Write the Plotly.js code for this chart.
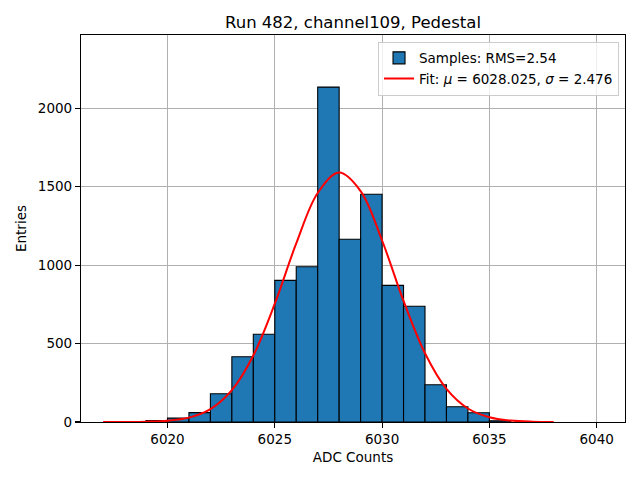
<!DOCTYPE html>
<html>
<head>
<meta charset="utf-8">
<script src="https://cdn.plot.ly/plotly-3.0.1.min.js"></script>
<style>html,body{margin:0;padding:0;background:#fff;}#chart{width:640px;height:480px;}</style>
</head>
<body>
<div id="chart"></div>
<script>
// Histogram bins (left edges) and entries
const binLeft = [6019, 6020, 6021, 6022, 6023, 6024, 6025, 6026, 6027, 6028, 6029, 6030, 6031, 6032, 6033, 6034, 6035];
const binCounts = [10, 25, 60, 180, 416, 559, 903, 990, 2135, 1165, 1452, 871, 738, 237, 97, 59, 8];
const binWidth = 1;

// Fit curve values
const fitX = [6017, 6018, 6019, 6020, 6021, 6022, 6023, 6024, 6025, 6026, 6027, 6028, 6029, 6030, 6031, 6032, 6033, 6034, 6035, 6036, 6037, 6038];
const fitY = [0.1, 0.4, 2, 8, 28, 82, 203, 424, 754, 1138, 1460, 1590, 1472, 1157, 772, 438, 211, 86, 30, 9, 2, 0.5];

const titleText = "Run 482, channel109, Pedestal";
const xLabel = "ADC Counts";
const yLabel = "Entries";
const histName = "Samples: RMS=2.54";
const fitName = "Fit: <i>μ</i> = 6028.025, <i>σ</i> = 2.476";
const xTicks = [6020, 6025, 6030, 6035, 6040];
const yTicks = [0, 500, 1000, 1500, 2000];

const font = "DejaVu Sans, sans-serif";

const traces = [
  {
    type: "bar",
    x: binLeft.map(v => v + binWidth / 2),
    y: binCounts,
    width: binLeft.map(() => binWidth),
    name: histName,
    marker: {color: "#1f77b4", line: {color: "#000000", width: 1.1}},
    hoverinfo: "x+y"
  },
  {
    type: "scatter",
    mode: "lines",
    x: fitX,
    y: fitY,
    name: fitName,
    line: {color: "#ff0000", width: 2, shape: "spline"}
  }
];

const axisCommon = {
  showline: true, linecolor: "#000", linewidth: 1.1, mirror: true,
  ticks: "outside", ticklen: 5, tickwidth: 1.1, tickcolor: "#000",
  showgrid: true, gridcolor: "#b0b0b0", gridwidth: 1.1,
  zeroline: false,
  tickfont: {family: font, size: 13.5, color: "#000"}
};

const layout = {
  width: 640, height: 480,
  margin: {l: 80.7, r: 15, t: 35.3, b: 58.3, pad: 0},
  paper_bgcolor: "#fff", plot_bgcolor: "#fff",
  font: {family: font, color: "#000"},
  bargap: 0,
  title: {text: titleText, font: {family: font, size: 16.5, color: "#000"}, x: 0.5, xref: "paper", xanchor: "center", y: 0.953, yref: "container", yanchor: "middle"},
  xaxis: Object.assign({}, axisCommon, {
    range: [6015.97, 6041.32], tickvals: xTicks, ticktext: xTicks.map(String),
    title: {text: xLabel, font: {family: font, size: 13.5, color: "#000"}, standoff: 6}
  }),
  yaxis: Object.assign({}, axisCommon, {
    range: [0, 2467], tickvals: yTicks, ticktext: yTicks.map(String),
    title: {text: yLabel, font: {family: font, size: 13.5, color: "#000"}, standoff: 8}
  }),
  showlegend: true,
  legend: {
    x: 0.989, y: 0.983, xanchor: "right", yanchor: "top",
    bgcolor: "rgba(255,255,255,0.8)", bordercolor: "#cccccc", borderwidth: 1,
    font: {family: font, size: 13.5, color: "#000"},
    traceorder: "normal", itemwidth: 30
  }
};

Plotly.newPlot("chart", traces, layout, {staticPlot: true, displayModeBar: false});
</script>
</body>
</html>
